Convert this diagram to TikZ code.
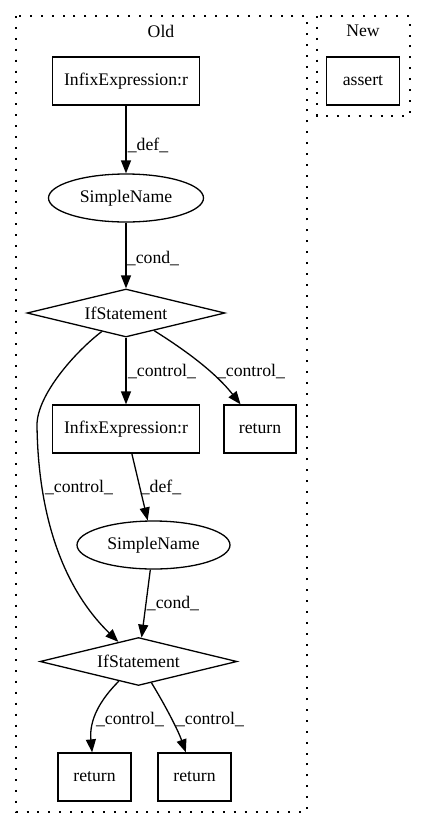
\documentclass[tikz,border=0pt]{standalone}
\usepackage{fontspec}
\setmainfont{Liberation Serif}
\usetikzlibrary{shapes.geometric,arrows.meta}
\begin{document}
\begin{tikzpicture}[x=1pt,y=-1pt,line width=1.3pt,
  every node/.style={font=\fontsize{17.7}{20}\selectfont,inner sep=0pt},
  box/.style={draw,rectangle,minimum height=48pt},
  oval/.style={draw,ellipse,minimum width=155pt,minimum height=48pt},
  cond/.style={draw,diamond,aspect=4,minimum width=198pt,minimum height=48pt},
  lbl/.style={anchor=base},
  cluster/.style={line width=1.3pt,dash pattern=on 2pt off 8.9pt},
  edge/.style={-{Triangle[length=13pt,width=10pt]},line width=1.3pt}]
\useasboundingbox (0,0) rectangle (427,828);
% clusters
\draw[cluster] (16,16) rectangle (307,812);
\draw[cluster] (317,16) rectangle (410,116);
\node (oldlbl) at (161,31) {Old};
\node (newlbl) at (363,31) {New};
% nodes
\node[box,minimum width=147pt] (ie1) at (126,81) {InfixExpression:r};
\node[box,minimum width=73pt] (assert) at (363,81) {assert};
\node[oval] (sn1) at (126,198) {SimpleName};
\node[cond] (if1) at (126,313) {IfStatement};
\node[box,minimum width=147pt] (ie2) at (126,429) {InfixExpression:r};
\node[box,minimum width=72pt] (ret1) at (260,429) {return};
\node[oval,minimum width=153pt] (sn2) at (153.5,545) {SimpleName};
\node[cond,minimum width=197pt] (if2) at (138.5,661.5) {IfStatement};
\node[box,minimum width=73pt] (ret2) at (94.5,777) {return};
\node[box,minimum width=73pt] (ret3) at (194.5,777) {return};
% edges
\draw[edge] (ie1) -- (sn1);
\draw[edge] (sn1) -- (if1);
\draw[edge] (if1) -- (ie2);
\draw[edge] (if1) .. controls (185,350) and (215,372) .. (ret1);
\draw[edge] (if1) .. controls (75,352) and (37,395) .. (37,425)
                  .. controls (38,510) and (60,585) .. (if2);
\draw[edge] (ie2) -- (sn2);
\draw[edge] (sn2) -- (if2);
\draw[edge] (if2) .. controls (100,700) and (89,720) .. (ret2);
\draw[edge] (if2) .. controls (165,705) and (178,730) .. (ret3);
% labels
\node[lbl] (l1) at (148,150) {\_def\_};
\node[lbl] (l2) at (153,263) {\_cond\_};
\node[lbl] (l3) at (162,376) {\_control\_};
\node[lbl] (l4) at (251,376) {\_control\_};
\node[lbl] (l5) at (79,492) {\_control\_};
\node[lbl] (l6) at (161,492) {\_def\_};
\node[lbl] (l7) at (173,608) {\_cond\_};
\node[lbl] (l8) at (130,724) {\_control\_};
\node[lbl] (l9) at (210,724) {\_control\_};
\end{tikzpicture}
\end{document}
